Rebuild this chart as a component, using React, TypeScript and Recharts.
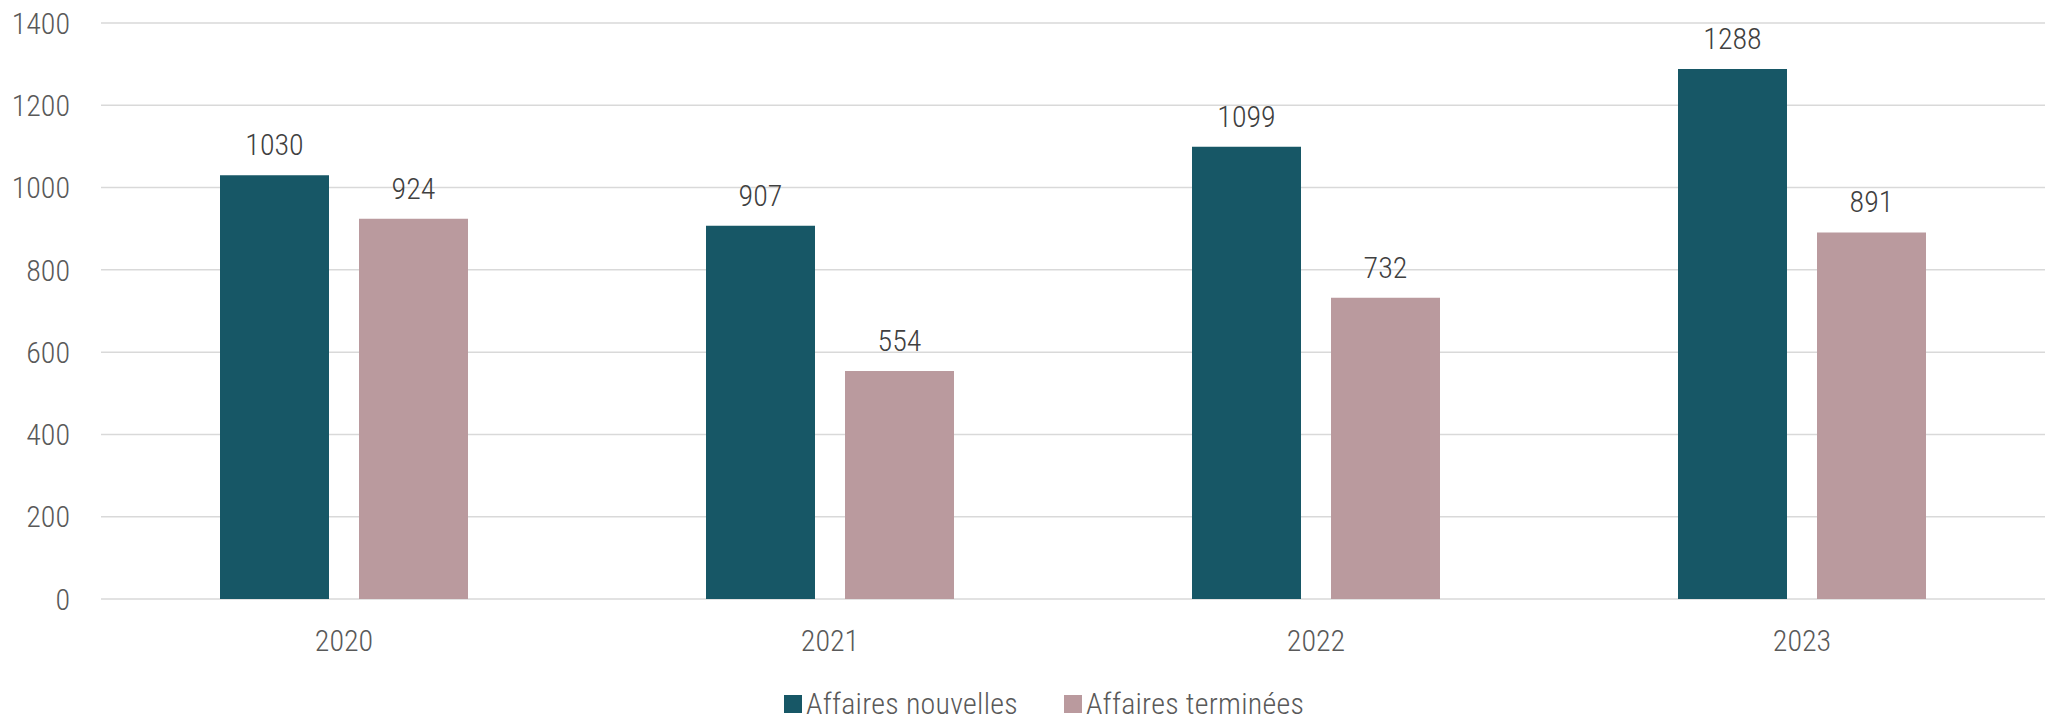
import { Bar, BarChart, CartesianGrid, LabelList, Legend, XAxis, YAxis } from "recharts";

const years = ["2020", "2021", "2022", "2023"];
const nouvelles = [1030, 907, 1099, 1288];
const terminees = [924, 554, 732, 891];
const yTicks = [0, 200, 400, 600, 800, 1000, 1200, 1400];

const SERIES = [
  { key: "nouvelles", name: "Affaires nouvelles", color: "#175766" },
  { key: "terminees", name: "Affaires terminées", color: "#BA9A9E" },
];

const FONT = "'Roboto Condensed', 'Liberation Sans Narrow', 'DejaVu Sans Condensed', sans-serif";

const data = years.map((year, i) => ({
  year,
  nouvelles: nouvelles[i],
  terminees: terminees[i],
}));

function LegendContent() {
  return (
    <div style={{ display: "flex", alignItems: "center", fontFamily: FONT, fontWeight: 300, fontSize: 30, lineHeight: "30px", letterSpacing: 0.25, color: "#595959" }}>
      {SERIES.map((s, i) => (
        <div key={s.key} style={{ display: "flex", alignItems: "center", marginRight: i === 0 ? 46 : 0 }}>
          <span style={{ width: 18, height: 18, background: s.color, marginRight: 4, display: "inline-block" }} />
          <span>{s.name}</span>
        </div>
      ))}
    </div>
  );
}

export default function App() {
  return (
    <div style={{ position: "fixed", left: 0, top: 0, width: 2045, height: 721, background: "#fff" }}>
      <BarChart
        width={2045}
        height={721}
        data={data}
        margin={{ top: 23, right: 0, bottom: 0, left: 0 }}
        barGap={30}
        barSize={109}
      >
        <CartesianGrid vertical={false} stroke="#d9d9d9" strokeWidth={1.5} />
        <XAxis
          dataKey="year"
          axisLine={false}
          tickLine={false}
          tickSize={0}
          tickMargin={31}
          height={122}
          tick={{ fill: "#595959", fontSize: 30, fontFamily: FONT, fontWeight: 300 }}
        />
        <YAxis
          domain={[0, 1400]}
          ticks={yTicks}
          width={101}
          axisLine={false}
          tickLine={false}
          tickSize={0}
          tickMargin={31}
          tick={{ fill: "#595959", fontSize: 30, fontFamily: FONT, fontWeight: 300 }}
        />
        <Legend
          verticalAlign="middle"
          align="center"
          wrapperStyle={{ top: 689, left: 784, width: "auto" }}
          content={<LegendContent />}
        />
        {SERIES.map((s) => (
          <Bar key={s.key} dataKey={s.key} name={s.name} fill={s.color} isAnimationActive={false}>
            <LabelList
              dataKey={s.key}
              position="top"
              offset={20}
              fill="#404040"
              fontSize={30}
              fontWeight={300}
              fontFamily={FONT}
            />
          </Bar>
        ))}
      </BarChart>
    </div>
  );
}
